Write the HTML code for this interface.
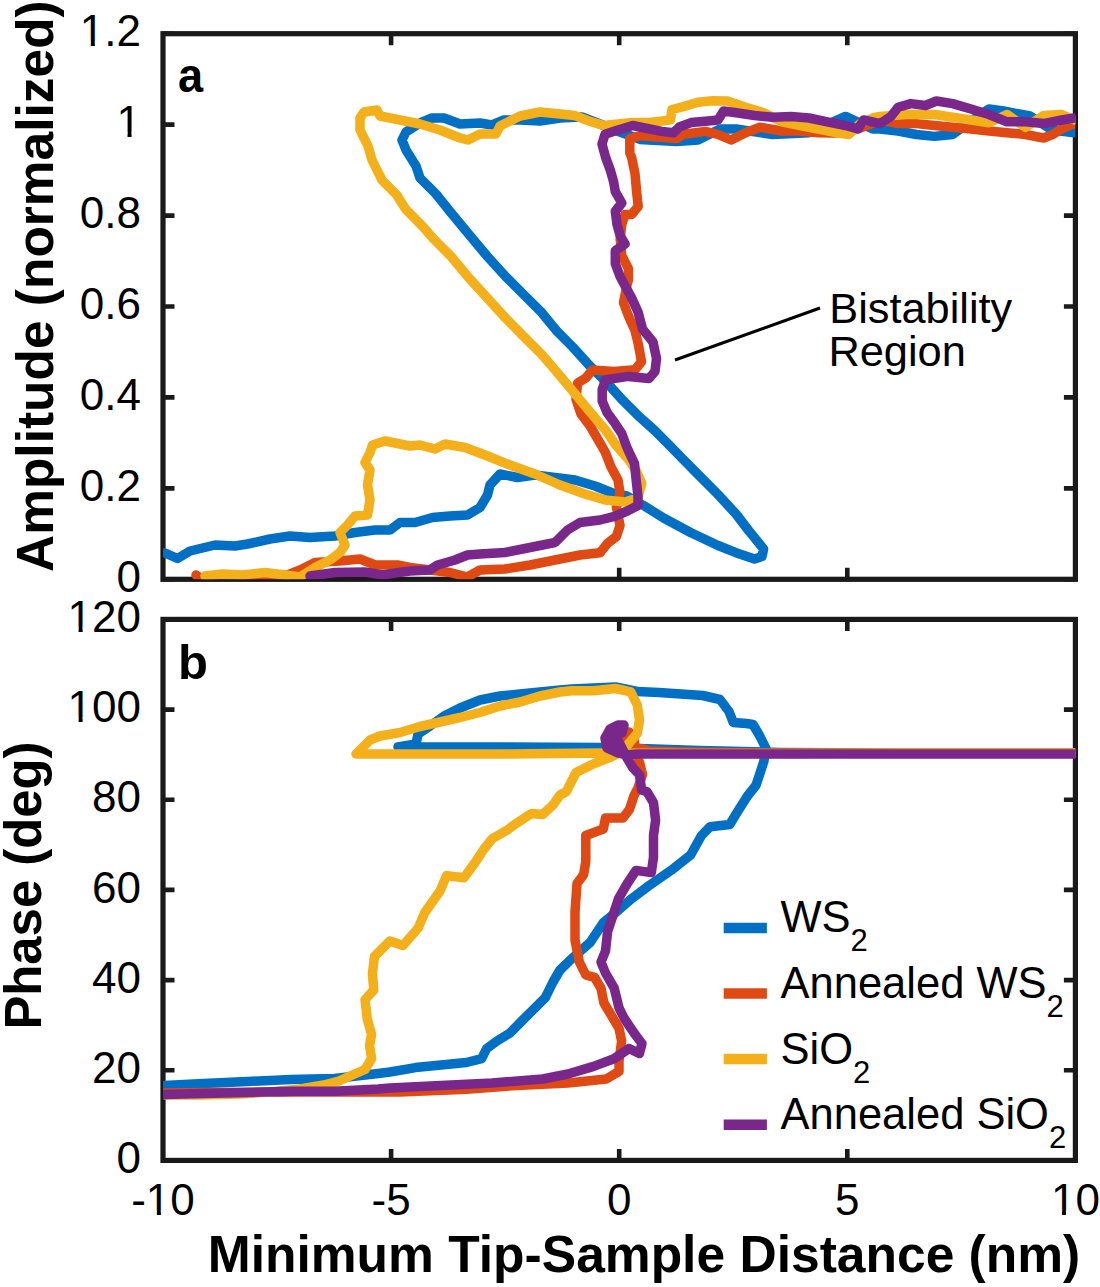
<!DOCTYPE html>
<html><head><meta charset="utf-8"><style>
html,body{margin:0;padding:0;background:#fff;width:1100px;height:1287px;overflow:hidden}
svg{display:block}
.t{font-family:"Liberation Sans",sans-serif;font-size:44px;fill:#000}
.b{font-family:"Liberation Sans",sans-serif;font-weight:bold;fill:#000}
</style></head><body>
<svg width="1100" height="1287" viewBox="0 0 1100 1287">
<rect x="163.0" y="33.7" width="912.4" height="545.6" fill="none" stroke="#1a1a1a" stroke-width="5.2" stroke-linejoin="miter"/>
<path d="M163.0,579.3h11.5M1075.4,579.3h-11.5M163.0,488.4h11.5M1075.4,488.4h-11.5M163.0,397.4h11.5M1075.4,397.4h-11.5M163.0,306.5h11.5M1075.4,306.5h-11.5M163.0,215.6h11.5M1075.4,215.6h-11.5M163.0,124.6h11.5M1075.4,124.6h-11.5M163.0,33.7h11.5M1075.4,33.7h-11.5M391.1,579.3v-11.5M391.1,33.7v11.5M619.2,579.3v-11.5M619.2,33.7v11.5M847.3,579.3v-11.5M847.3,33.7v11.5" stroke="#1a1a1a" stroke-width="4.6" fill="none"/>
<text x="141" y="591.9" text-anchor="end" class="t">0</text>

<text x="141" y="501.0" text-anchor="end" class="t">0.2</text>

<text x="141" y="410.0" text-anchor="end" class="t">0.4</text>

<text x="141" y="319.1" text-anchor="end" class="t">0.6</text>

<text x="141" y="228.2" text-anchor="end" class="t">0.8</text>

<text x="141" y="137.2" text-anchor="end" class="t">1</text>
<rect x="118.68" y="132.65" width="8.85" height="6.29" fill="#fff"/><rect x="131.55" y="132.65" width="8.40" height="6.29" fill="#fff"/>
<text x="141" y="46.3" text-anchor="end" class="t">1.2</text>
<rect x="81.98" y="41.71" width="8.85" height="6.29" fill="#fff"/><rect x="94.85" y="41.71" width="8.40" height="6.29" fill="#fff"/>
<rect x="163.0" y="619.4" width="912.4" height="541.0" fill="none" stroke="#1a1a1a" stroke-width="5.2" stroke-linejoin="miter"/>
<path d="M163.0,1160.4h11.5M1075.4,1160.4h-11.5M163.0,1070.2h11.5M1075.4,1070.2h-11.5M163.0,980.1h11.5M1075.4,980.1h-11.5M163.0,889.9h11.5M1075.4,889.9h-11.5M163.0,799.7h11.5M1075.4,799.7h-11.5M163.0,709.6h11.5M1075.4,709.6h-11.5M163.0,619.4h11.5M1075.4,619.4h-11.5M391.1,1160.4v-11.5M391.1,619.4v11.5M619.2,1160.4v-11.5M619.2,619.4v11.5M847.3,1160.4v-11.5M847.3,619.4v11.5" stroke="#1a1a1a" stroke-width="4.6" fill="none"/>
<text x="141" y="1173.0" text-anchor="end" class="t">0</text>

<text x="141" y="1082.8" text-anchor="end" class="t">20</text>

<text x="141" y="992.7" text-anchor="end" class="t">40</text>

<text x="141" y="902.5" text-anchor="end" class="t">60</text>

<text x="141" y="812.3" text-anchor="end" class="t">80</text>

<text x="141" y="722.2" text-anchor="end" class="t">100</text>
<rect x="69.74" y="717.58" width="8.85" height="6.29" fill="#fff"/><rect x="82.61" y="717.58" width="8.40" height="6.29" fill="#fff"/>
<text x="141" y="632.0" text-anchor="end" class="t">120</text>
<rect x="69.74" y="627.41" width="8.85" height="6.29" fill="#fff"/><rect x="82.61" y="627.41" width="8.40" height="6.29" fill="#fff"/>
<text x="163.0" y="1215.3" text-anchor="middle" class="t">-10</text>
<rect x="148.00" y="1210.71" width="8.85" height="6.29" fill="#fff"/><rect x="160.87" y="1210.71" width="8.40" height="6.29" fill="#fff"/>
<text x="391.1" y="1215.3" text-anchor="middle" class="t">-5</text>

<text x="619.2" y="1215.3" text-anchor="middle" class="t">0</text>

<text x="847.3" y="1215.3" text-anchor="middle" class="t">5</text>

<text x="1075.4" y="1215.3" text-anchor="middle" class="t">10</text>
<rect x="1053.08" y="1210.71" width="8.85" height="6.29" fill="#fff"/><rect x="1065.95" y="1210.71" width="8.40" height="6.29" fill="#fff"/>
<defs><clipPath id="ca"><rect x="163.0" y="33.7" width="912.4" height="545.6"/></clipPath><clipPath id="cb"><rect x="163.0" y="619.4" width="912.4" height="541.0"/></clipPath></defs>
<g clip-path="url(#ca)"><polyline points="1074.5,132.7 1052,130 1030,116 1003.6,111 989,109 970,122 952.7,134.5 934.5,136.4 916.4,134.5 898,131 880,129 872.7,129 845.5,116.4 809,132.7 772.7,134.5 736.4,129 720,129 698,140 676.4,141.5 640,139.4 620,132 600,124 582,117 560,118 540,121 520,120 504,120 492,125 480,123 460,124 444,118 432,118 420,123 406,132 402,140 406,150 416,166 420,178 432,190 436.4,194.5 451,212.7 469,234.5 487.3,256.4 505.5,276.4 523.6,294.5 541.8,312.7 556.4,330.6 572.7,347 589,365 605.5,381.3 621.8,399.3 638.2,415.7 654.6,430.4 671,446.8 681.8,458 700,476.4 718,494.5 736.4,514.5 749,531 756.4,540 763.6,549 762,556.4 754.5,559 736,552.7 718,545.5 691,532.7 663.6,518 643.6,505.5 627,496 615,494 595,486 575,480 555,477.5 535,475 517.5,477.5 500,474 490,485 487.5,495 480,507.5 467.5,515 450,516 432.5,517.5 415,522.5 400,522.5 390,530 375,530 355,532.5 335,536 310,537.5 290,536 270,539 247.5,544 235,546 215,545 190,551 177.5,558.5 165,553" fill="none" stroke="#006FC4" stroke-width="9.5" stroke-linejoin="round" stroke-linecap="round"/><polyline points="1074.5,123.6 1061.8,129 1052.7,134.5 1043.6,138 1025.5,134.5 1007,132.7 989,131 971,129 952.7,127.3 934.5,125.5 916.4,123.6 898,123.6 881.8,120 860,128 836,133 818,132.7 800,131 781.8,131 760,127.3 745.5,132.7 731,140 718,134.5 705.5,131.4 683.6,134.3 676.4,138.6 661.8,137.2 640,135.7 629.8,138.6 629.8,153 631.6,157.3 635,173.6 636.6,191.6 638.2,206.4 631.6,214.6 625,214.6 621.8,224.4 620.2,239 621.8,255.5 628.4,268.6 628.4,280 626.7,286.4 623.5,302.7 628.4,315.8 635,330.6 638.2,343.6 641.5,361.7 635,369.8 613.6,371.5 592.4,370 585.8,378 577.6,383 576,399.3 581,414 590.7,427 602.2,446.8 605.5,452.7 611,467 618,480 620,492.7 616.4,507 620,525.5 616.4,536.4 607.3,543.6 600,552.7 580,555 555,560 530,565 505,569 480,570 467.5,577 450,572.5 430,570 410,567.5 397.5,565 375,565 360,559 340,561 315,562.5 300,570 285,576 250,578 200,578 196,575" fill="none" stroke="#DF4A14" stroke-width="9.5" stroke-linejoin="round" stroke-linecap="round"/><polyline points="1074.5,120 1061.8,114.5 1043.6,115.5 1025.5,127.3 1007,114.5 989,122.7 971,120 952.7,117.3 934.5,114.5 907,114.5 880,116.4 872.7,118 860,123.6 849,134.5 836.4,132.7 818,129 800,125.5 781.8,121.8 763.6,112.7 745.5,107.3 727.3,101 712.7,100.8 698,102.3 683.6,106.6 672,109.5 670.5,119.7 661.8,121 647.3,122.6 632.7,122.6 618,124 603.6,125.5 589,121 574.5,115.4 560,114 540,112 520,116 500,126 496,134 480,134 468,140 460,138 440,130 420,124 400,120 380,116 377,110 364,112 360,118 360,130 368,146 372,160 380,176 381.8,180 396.4,194.5 405.5,209 423.6,227.3 432.7,238 451,256.4 469,278 487.3,298 505.5,318 523.6,336.4 541.8,354.5 556.4,371.5 572.7,391 589,410.8 605.5,430 615,444 622,452 629,460 636.4,471 641.8,483.6 637.5,498 625,502 605,500 585,494 560,485 535,474 510,465 485,455 465,447.5 445,444 435,449 420,445 410,446 385,441 372.5,445 370,452.5 365,462.5 370,470 367.5,485 370,500 367.5,515 355,516 347.5,525 340,532.5 345,545 340,552.5 330,560 315,567.5 300,577 285,575 265,572.5 242.5,575 222.5,574 205,576" fill="none" stroke="#F4B01A" stroke-width="9.5" stroke-linejoin="round" stroke-linecap="round"/><polyline points="1074.5,118 1061.8,120 1043.6,123.6 1025.5,121.8 1007,121.8 989,114.5 971,109 952.7,103.6 936.4,101 925.5,105.5 911,103.6 898,107.3 891,116.4 880,123.6 863.6,120 858,129 845.5,125.5 827.3,121.8 809,118 791,116.4 772.7,117.3 754.5,115.5 736.4,112.7 723.6,111 718,120 705.5,121.2 691,122.6 679.3,127 673.5,132.8 661.8,131.4 647.3,128.5 632.7,125.5 618,130 605,134.3 602,144 605.5,157 610.4,170.4 613.6,181.8 615.3,191.6 621.8,203 615.3,211.3 617,224.4 620.2,235.8 625,244 615.3,250.6 615.3,263.7 620.2,276.8 623.5,283 631.6,297.8 638.2,312.5 642.5,329 653,342 656.5,358.4 655,371.5 649,378.5 628.4,376.4 605.5,379.7 602.2,389.5 602.2,401 607,412.4 615.3,423.8 621.8,433.7 626.7,446.8 629,452 634.5,463.6 636.4,482 638,496.4 638,505.5 627.3,511 614.5,516.4 600,520 580,522.5 567.5,530 555,542.5 530,547.5 505,552.5 480,554 467.5,555 455,560 437.5,565 430,570 410,571 395,573 383,575 365,572 335,572.5 310,576" fill="none" stroke="#7A278B" stroke-width="9.5" stroke-linejoin="round" stroke-linecap="round"/></g><g clip-path="url(#cb)"><polyline points="1074.5,753 900,753 780,752.5 700,750.5 640,748.5 600,747.5 500,747 420,747 398,747 416,744 418,734 430,726 444,716 460,708 480,700 500,696 520,694 540,692 560,690 571.8,689 615.5,687 637.3,691.5 659,692.5 681,694 702.7,695.5 720,699.5 729,711.5 733.3,722.4 746.4,723.5 753,724.5 759.5,735.5 766,748.5 763.8,761.6 760.4,772 756,785.3 747.3,796.2 736.4,813.6 729.8,824.5 710.2,826.7 701.5,835.5 690.6,855 671,870.4 649,885.6 631.6,898.7 616.4,911.8 603.3,922.7 590.2,942.4 570.5,959.8 560,970 553,982 545.3,997.6 532.5,1010.4 522.3,1020.5 509.6,1033.3 497,1041 486.7,1048.5 481.6,1058.7 466.4,1062.5 441,1065 415.5,1067.6 390,1072 378.2,1073.5 356.4,1076 334.6,1078.5 291,1079.5 247.3,1081.5 203.6,1083.5 164.4,1085.5" fill="none" stroke="#006FC4" stroke-width="9.5" stroke-linejoin="round" stroke-linecap="round"/><polyline points="1074.5,753 900,753 760,753 680,752 650,751 632,746 625,737 629,732 634,740 636,752 640,764 642.5,774.4 638.2,787.5 633.8,796.2 629.5,809.3 623,818 605.5,818 603.3,829 585.8,835.5 585.8,861.6 583.6,874.7 577,883.5 575,911.8 575,940.2 579.3,962 585.8,975 594.5,977.3 601,988.2 603.8,1002.7 611.4,1015.5 619,1028.2 621.6,1041 619,1061.3 619,1071.4 606.3,1079 568,1083 517,1085.4 466.4,1089.3 400,1092 300,1092 200,1092.5 165,1093" fill="none" stroke="#DF4A14" stroke-width="9.5" stroke-linejoin="round" stroke-linecap="round"/><polyline points="1074.5,753 900,753 780,753.5 700,753.5 598,753 500,754 420,754 380,754 356,754 360,750 370,740 380,736 400,732.5 420,726.5 440,722 460,717.5 480,712.5 500,706 520,702 540,696 560,692 571.8,690.7 593.6,690.7 615.5,688.5 630.7,691.8 637.3,705 639.5,720 637.3,733.3 628.5,744 615.5,755 611,757 593.6,763.8 576,772.5 566.2,791.8 560,795 553,805 542.6,814.5 531.6,813.5 516.4,823.3 507.6,829.8 492.4,838.5 483.6,849.5 475,862.6 464,877.8 446.6,875.6 440,891 424.7,912.7 418.2,928 403,945.5 389.8,941 381,949.8 374.5,956.4 372.4,973.8 373.8,990 365,999.6 367.3,1019.3 371.6,1034.5 369.5,1045.5 371.6,1058.5 365,1069.5 350,1076 339,1081 323.6,1085 300,1089 270,1092 240,1094 200,1095 165,1095" fill="none" stroke="#F4B01A" stroke-width="9.5" stroke-linejoin="round" stroke-linecap="round"/><polyline points="1074.5,754 900,754 768,754 681,754 637.3,754 626,755 618,753 607,748 605,738 610,729 618,725 624,725 622,733 613,737 611,745 619,742 622,748 626.4,757 633,768 639.5,774.7 641.6,790 647,791.8 653.5,802.7 655.6,820.2 653.5,835.5 653.5,857.3 651.3,872.6 636,870.4 627.3,883.5 618.5,898.7 614.2,911.8 607.6,931.5 605.5,951 601,962 605.5,973 614.2,988.2 619,1007.8 624,1018 634.3,1033.3 642,1043.5 639.4,1053.6 629,1048.5 614,1058.7 593.6,1066.4 568,1074 542.7,1079 491.8,1083 441,1085.4 390,1088 378,1089 334.6,1091.3 291,1091.3 247.3,1092.4 203.6,1093.5 164.4,1094.6" fill="none" stroke="#7A278B" stroke-width="9.5" stroke-linejoin="round" stroke-linecap="round"/></g>
<text x="207.7" y="1272.4" class="b" style="font-size:52px" textLength="872.6" lengthAdjust="spacingAndGlyphs">Minimum Tip-Sample Distance (nm)</text>
<text transform="translate(53.2,572) rotate(-90)" x="0" y="0" class="b" style="font-size:52px" textLength="571.7" lengthAdjust="spacingAndGlyphs">Amplitude (normalized)</text>
<text transform="translate(41.1,1029.6) rotate(-90)" x="0" y="0" class="b" style="font-size:52px" textLength="288.1" lengthAdjust="spacingAndGlyphs">Phase (deg)</text>
<text x="177.9" y="92" class="b" style="font-size:49px" textLength="25.1" lengthAdjust="spacingAndGlyphs">a</text>
<text x="178" y="679" class="b" style="font-size:49px">b</text>
<path d="M675,360L820,308" stroke="#000" stroke-width="3" fill="none"/>
<text x="829.3" y="322.5" class="t" style="font-size:42px" textLength="182.9" lengthAdjust="spacingAndGlyphs">Bistability</text>
<text x="828.4" y="366" class="t" style="font-size:42px" textLength="137.5" lengthAdjust="spacingAndGlyphs">Region</text>
<path d="M723.7,927.9H766.9" stroke="#006FC4" stroke-width="10.5"/>
<text x="780.5" y="932.4" class="t" style="font-size:43.5px">WS<tspan dy="19" style="font-size:31px">2</tspan></text>
<path d="M723.7,993.4H766.9" stroke="#DF4A14" stroke-width="10.5"/>
<text x="780.5" y="997.9" class="t" style="font-size:43.5px">Annealed WS<tspan dy="19" style="font-size:31px">2</tspan></text>
<path d="M723.7,1059.0H766.9" stroke="#F4B01A" stroke-width="10.5"/>
<text x="780.5" y="1063.5" class="t" style="font-size:43.5px">SiO<tspan dy="19" style="font-size:31px">2</tspan></text>
<path d="M723.7,1124.7H766.9" stroke="#7A278B" stroke-width="10.5"/>
<text x="780.5" y="1129.2" class="t" style="font-size:43.5px">Annealed SiO<tspan dy="19" style="font-size:31px">2</tspan></text>
</svg>
</body></html>
